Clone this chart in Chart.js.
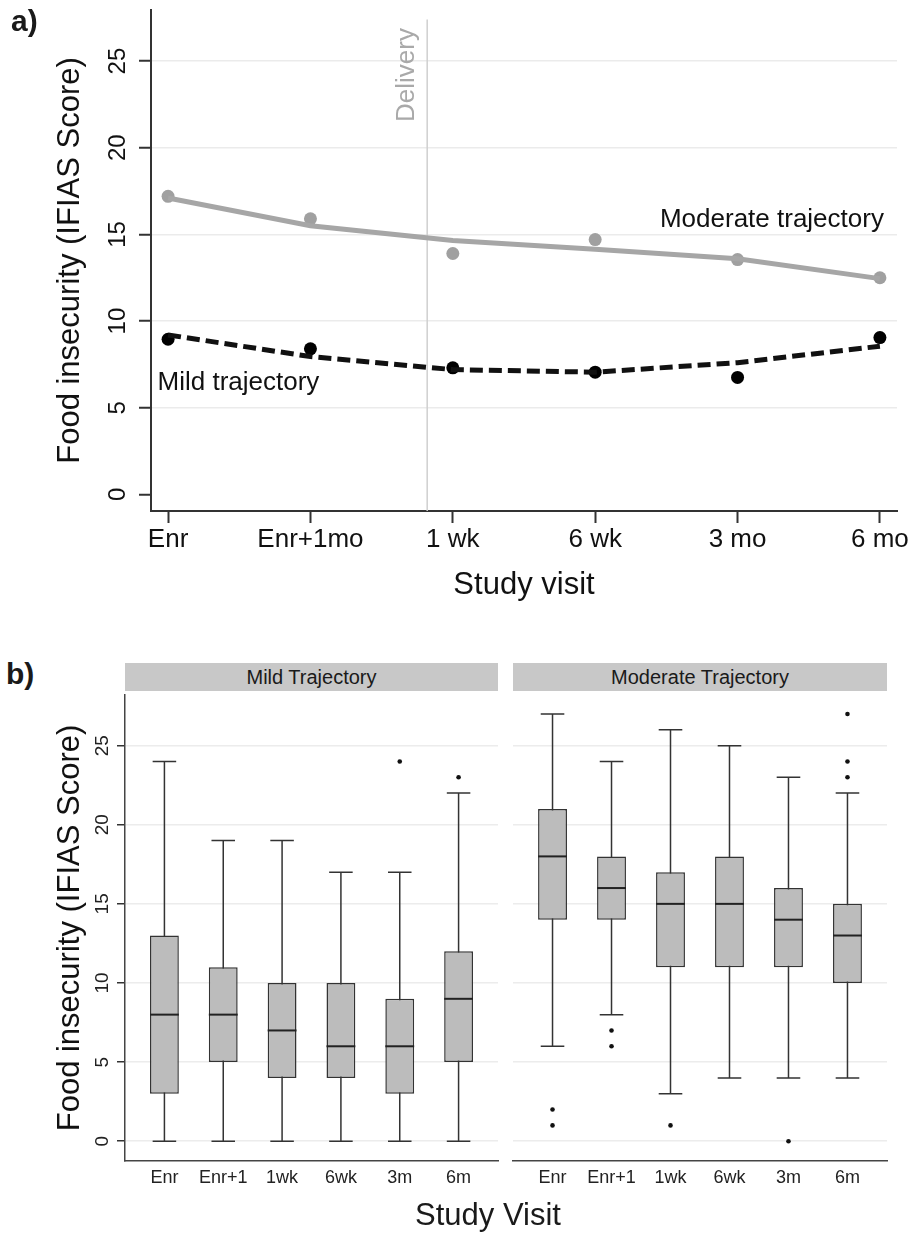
<!DOCTYPE html>
<html>
<head>
<meta charset="utf-8">
<title>Food insecurity trajectories</title>
<script src="https://cdn.jsdelivr.net/npm/chart.js@4.4.1/dist/chart.umd.min.js"></script>
<style>
  body { margin: 0; background: #fff; font-family: "Liberation Sans", Arial, sans-serif; color: #1a1a1a; }
  #page { position: relative; width: 913px; height: 1236px; overflow: hidden; }
  .abs { position: absolute; }
  .panel-tag { font-weight: bold; font-size: 30px; line-height: 30px; }
  .strip { background: #c8c8c8; font-size: 20px; height: 28px; line-height: 28px; text-align: center; }
</style>
</head>
<body>
<div id="page">
  <canvas id="chartA" class="abs" width="913" height="620" style="left:0;top:0"></canvas>
  <div class="abs panel-tag" style="left:11px;top:6px">a)</div>
  <div class="abs panel-tag" style="left:6px;top:659px">b)</div>
  <div class="abs strip" style="left:125px;top:663px;width:373px">Mild Trajectory</div>
  <div class="abs strip" style="left:513px;top:663px;width:374px">Moderate Trajectory</div>
  <canvas id="chartMild" class="abs" width="505" height="545" style="left:0;top:691px"></canvas>
  <canvas id="chartModerate" class="abs" width="408" height="545" style="left:505px;top:691px"></canvas>
  <div class="abs" style="left:338px;top:1197px;width:300px;text-align:center;font-size:31px;line-height:36px">Study Visit</div>
</div>
<script>
// panel a: mean scores per visit and fitted trajectories
const visitLabelsA = ['Enr', 'Enr+1mo', '1 wk', '6 wk', '3 mo', '6 mo'];
const moderateMeans = [17.2, 15.9, 13.9, 14.7, 13.55, 12.5];
const moderateFitted = [17.1, 15.5, 14.65, 14.15, 13.6, 12.45];
const mildMeans = [8.95, 8.4, 7.3, 7.05, 6.75, 9.05];
const mildFitted = [9.2, 7.95, 7.2, 7.05, 7.6, 8.55];
const yTicksA = [0, 5, 10, 15, 20, 25];
const deliveryAt = 1.82; // between Enr+1mo and 1 wk

// panel b: box plot summaries per visit
const visitLabelsB = ['Enr', 'Enr+1', '1wk', '6wk', '3m', '6m'];
const mildLow = [0, 0, 0, 0, 0, 0];
const mildQ1 = [3, 5, 4, 4, 3, 5];
const mildMedian = [8, 8, 7, 6, 6, 9];
const mildQ3 = [13, 11, 10, 10, 9, 12];
const mildHigh = [24, 19, 19, 17, 17, 22];
const mildOutliers = [[], [], [], [], [24], [23]];
const moderateLow = [6, 8, 3, 4, 4, 4];
const moderateQ1 = [14, 14, 11, 11, 11, 10];
const moderateMedian = [18, 16, 15, 15, 14, 13];
const moderateQ3 = [21, 18, 17, 18, 16, 15];
const moderateHigh = [27, 24, 26, 25, 23, 22];
const moderateOutliers = [[2, 1], [7, 6], [1], [], [0], [23, 24, 27]];
const yTicksB = [0, 5, 10, 15, 20, 25];

const FONT = '"Liberation Sans", Arial, sans-serif';
Chart.defaults.font.family = FONT;
Chart.defaults.color = '#1a1a1a';

const toPoints = arr => arr.map((v, i) => ({ x: i, y: v }));
const setTicks = list => scale => { scale.ticks = list.map(v => ({ value: v })); };
// pin an axis box to a fixed size so the plot area lands where the original is
const lockSize = (prop, px) => scale => {
    scale[prop] = px;
    scale.paddingTop = scale.paddingBottom = scale.paddingLeft = scale.paddingRight = 0;
};

const annotateA = {
    id: 'annotateA',
    beforeDatasetsDraw(chart) {
        const { ctx, chartArea, scales: { x, y } } = chart;
        const px = x.getPixelForValue(deliveryAt);
        ctx.save();
        ctx.strokeStyle = '#cfcfcf';
        ctx.lineWidth = 1.5;
        ctx.beginPath();
        ctx.moveTo(px, y.getPixelForValue(27.4));
        ctx.lineTo(px, chartArea.bottom);
        ctx.stroke();
        ctx.translate(px - 13, y.getPixelForValue(24.2));
        ctx.rotate(-Math.PI / 2);
        ctx.font = '26px ' + FONT;
        ctx.fillStyle = '#a9a9a9';
        ctx.textAlign = 'center';
        ctx.fillText('Delivery', 0, 0);
        ctx.restore();
    },
    afterDatasetsDraw(chart) {
        const { ctx, scales: { x, y } } = chart;
        ctx.save();
        ctx.font = '26px ' + FONT;
        ctx.fillStyle = '#111';
        ctx.textAlign = 'right';
        ctx.fillText('Moderate trajectory', x.getPixelForValue(5) + 4, y.getPixelForValue(15.44));
        ctx.textAlign = 'left';
        ctx.fillText('Mild trajectory', x.getPixelForValue(-0.074), y.getPixelForValue(6.02));
        ctx.restore();
    }
};

new Chart(document.getElementById('chartA'), {
    type: 'line',
    data: {
        datasets: [
            { data: toPoints(moderateFitted), borderColor: '#a6a6a6', borderWidth: 5, pointRadius: 0 },
            { data: toPoints(moderateMeans), showLine: false, pointRadius: 6.5, pointBackgroundColor: '#a0a0a0', pointBorderWidth: 0 },
            { data: toPoints(mildFitted), borderColor: '#111', borderWidth: 5, borderDash: [13, 6], pointRadius: 0 },
            { data: toPoints(mildMeans), showLine: false, pointRadius: 6.5, pointBackgroundColor: '#000', pointBorderWidth: 0 }
        ]
    },
    options: {
        responsive: false,
        animation: false,
        layout: { padding: { top: 10, right: 16, bottom: 0, left: 0 } },
        plugins: { legend: { display: false }, tooltip: { enabled: false } },
        scales: {
            x: {
                type: 'linear', min: -0.12, max: 5.12,
                afterBuildTicks: setTicks(visitLabelsA.map((_, i) => i)),
                afterFit: lockSize('height', 109),
                grid: { drawOnChartArea: false, tickLength: 12, tickColor: '#333', tickWidth: 2 },
                border: { color: '#333', width: 2 },
                ticks: { callback: v => visitLabelsA[v], font: { size: 26 }, color: '#111', padding: 1, maxRotation: 0, autoSkip: false },
                title: { display: true, text: 'Study visit', font: { size: 31 }, color: '#111', padding: { top: 0, bottom: 16 } }
            },
            y: {
                min: -0.96, max: 27.95,
                afterBuildTicks: setTicks(yTicksA),
                afterFit: lockSize('width', 151),
                grid: {
                    color: c => (c.tick && c.tick.value === 0) ? 'rgba(0,0,0,0)' : '#ebebeb',
                    lineWidth: 1.5, tickLength: 12, tickColor: '#333', tickWidth: 2
                },
                border: { color: '#333', width: 2 },
                ticks: { font: { size: 24 }, color: '#111', minRotation: 90, maxRotation: 90, crossAlign: 'center', padding: 7 },
                title: { display: true, text: 'Food insecurity (IFIAS Score)', font: { size: 31 }, color: '#111', padding: { top: 52, bottom: 0 } }
            }
        }
    },
    plugins: [annotateA]
});

// whiskers behind the boxes, medians on top
function boxParts(low, median, high) {
    return {
        id: 'boxParts',
        beforeDatasetsDraw(chart) {
            const { ctx, scales: { x, y } } = chart;
            ctx.save();
            ctx.strokeStyle = '#333';
            ctx.lineWidth = 1.5;
            low.forEach((lo, i) => {
                const cx = x.getPixelForValue(i);
                const cap = x.getPixelForValue(i + 0.2) - cx;
                const yLo = y.getPixelForValue(lo), yHi = y.getPixelForValue(high[i]);
                ctx.beginPath();
                ctx.moveTo(cx, yLo); ctx.lineTo(cx, yHi);
                ctx.moveTo(cx - cap, yLo); ctx.lineTo(cx + cap, yLo);
                ctx.moveTo(cx - cap, yHi); ctx.lineTo(cx + cap, yHi);
                ctx.stroke();
            });
            ctx.restore();
        },
        afterDatasetsDraw(chart) {
            const { ctx, scales: { x, y } } = chart;
            ctx.save();
            ctx.strokeStyle = '#222';
            ctx.lineWidth = 2;
            median.forEach((m, i) => {
                const py = y.getPixelForValue(m);
                ctx.beginPath();
                ctx.moveTo(x.getPixelForValue(i - 0.245), py);
                ctx.lineTo(x.getPixelForValue(i + 0.245), py);
                ctx.stroke();
            });
            ctx.restore();
        }
    };
}

function drawBoxPanel(canvasId, low, q1, median, q3, high, outliers, withAxis, padRight) {
    const outlierPoints = [];
    outliers.forEach((list, i) => list.forEach(v => outlierPoints.push({ x: i, y: v })));

    return new Chart(document.getElementById(canvasId), {
        type: 'bar',
        data: {
            datasets: [
                {
                    type: 'bar',
                    data: q1.map((v, i) => ({ x: i, y: [v, q3[i]] })),
                    backgroundColor: '#bcbcbc', borderColor: '#333', borderWidth: 1.5, borderSkipped: false,
                    barPercentage: 0.49, categoryPercentage: 1
                },
                {
                    type: 'scatter',
                    data: outlierPoints,
                    pointRadius: 2.3, pointBackgroundColor: '#111', pointBorderWidth: 0
                }
            ]
        },
        options: {
            responsive: false,
            animation: false,
            layout: { padding: { top: 0, right: padRight, bottom: 0, left: 0 } },
            plugins: { legend: { display: false }, tooltip: { enabled: false } },
            scales: {
                x: {
                    type: 'linear', min: -0.67, max: 5.67, offset: false,
                    afterBuildTicks: setTicks(visitLabelsB.map((_, i) => i)),
                    afterFit: lockSize('height', 75),
                    grid: { display: false, offset: false },
                    border: { color: '#444', width: 1.5 },
                    ticks: { callback: v => visitLabelsB[v], font: { size: 18 }, color: '#222', padding: -2, maxRotation: 0, autoSkip: false }
                },
                y: {
                    min: -1.25, max: 28.2,
                    afterBuildTicks: setTicks(yTicksB),
                    afterFit: lockSize('width', withAxis ? 125 : 8),
                    grid: { color: '#ececec', lineWidth: 1.5, drawTicks: withAxis, tickLength: 8, tickColor: '#333', tickWidth: 1.5 },
                    border: { display: withAxis, color: '#444', width: 1.5 },
                    ticks: { display: withAxis, font: { size: 19 }, color: '#222', minRotation: 90, maxRotation: 90, crossAlign: 'center', padding: 4 },
                    title: { display: withAxis, text: 'Food insecurity (IFIAS Score)', font: { size: 31 }, color: '#111', padding: { top: 52, bottom: 0 } }
                }
            }
        },
        plugins: [boxParts(low, median, high)]
    });
}

drawBoxPanel('chartMild', mildLow, mildQ1, mildMedian, mildQ3, mildHigh, mildOutliers, true, 7);
drawBoxPanel('chartModerate', moderateLow, moderateQ1, moderateMedian, moderateQ3, moderateHigh, moderateOutliers, false, 26);
</script>
</body>
</html>
